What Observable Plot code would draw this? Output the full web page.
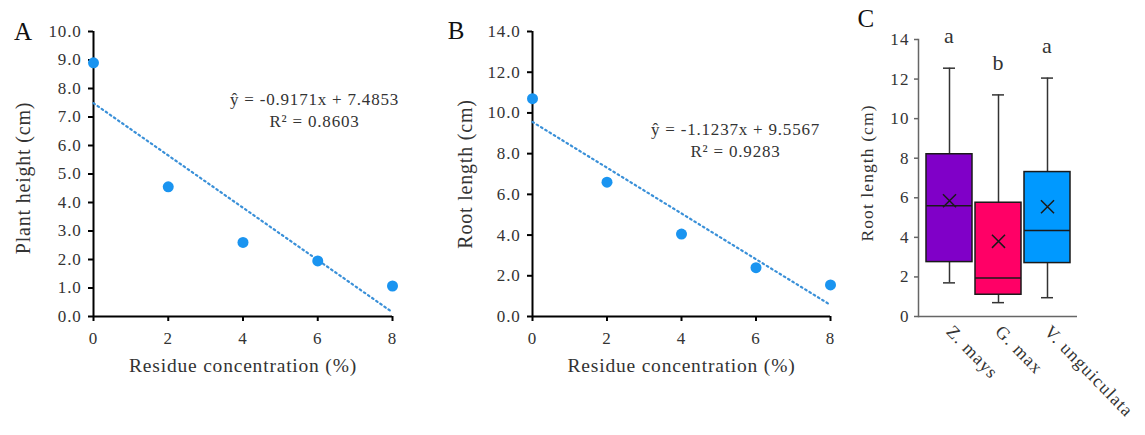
<!DOCTYPE html>
<html>
<head>
<meta charset="utf-8">
<script src="https://cdn.jsdelivr.net/npm/d3@7"></script>
<script src="https://cdn.jsdelivr.net/npm/@observablehq/plot@0.6"></script>
<style>
  body { margin: 0; background: #fff; }
  #wrap { position: relative; width: 1145px; height: 435px; overflow: hidden; background: #fff; }
  .panel { position: absolute; top: 0; }
  #wrap svg, #wrap svg text { font-family: "Liberation Serif", "Times New Roman", "DejaVu Serif", serif !important; }
  #pa text, #pb text { letter-spacing: 0.8px; }
  #pc text { letter-spacing: 1.1px; }
</style>
</head>
<body>
<div id="wrap">
  <div class="panel" id="pa" style="left:0px"></div>
  <div class="panel" id="pb" style="left:420px"></div>
  <div class="panel" id="pc" style="left:840px"></div>
</div>
<script>
// ---------- data ----------
const residueConc = [0, 2, 4, 6, 8];
const plantHeight = [8.9, 4.55, 2.6, 1.95, 1.07];
const rootLength = [10.7, 6.6, 4.05, 2.4, 1.55];
const fitSlope = [-0.9171, -1.1237];
const fitIntercept = [7.4853, 9.5567];
const fitR2 = ["0.8603", "0.9283"];
const yTicksA = [0, 1, 2, 3, 4, 5, 6, 7, 8, 9, 10];
const yTicksB = [0, 2, 4, 6, 8, 10, 12, 14];

const species = ["Z. mays", "G. max", "V. unguiculata"];
const boxMin = [1.7, 0.7, 0.95];
const boxQ1 = [2.75, 1.1, 2.7];
const boxMedian = [5.6, 1.95, 4.35];
const boxQ3 = [8.2, 5.75, 7.3];
const boxMax = [12.55, 11.2, 12.05];
const boxMean = [5.85, 3.8, 5.55];
const groupLetters = ["a", "b", "a"];
const boxColors = ["#8000c8", "#ff0066", "#0099ff"];
const yTicksC = [0, 2, 4, 6, 8, 10, 12, 14];

const FONT = "'Liberation Serif', 'Times New Roman', serif";
const TXT = "#333";
const T = {fontFamily: FONT, textAnchor: "middle", lineAnchor: "middle", fill: TXT};

function scatter(opts) {
  const pts = residueConc.map((x, i) => ({x, y: opts.values[i]}));
  const fit = [residueConc[0], residueConc[residueConc.length - 1]]
    .map(x => ({x, y: opts.intercept + opts.slope * x}));
  const eq = `ŷ = ${opts.slope.toFixed(4)}x + ${opts.intercept.toFixed(4)}`;
  return Plot.plot({
    width: opts.width, height: 400,
    marginLeft: opts.marginLeft, marginRight: opts.marginRight, marginTop: 31, marginBottom: 84,
    style: `font-family: ${FONT}; background: transparent; overflow: visible;`,
    x: {domain: [0, 8]},
    y: {domain: opts.domain},
    marks: [
      Plot.axisX({ticks: residueConc, tickSize: 5, tickPadding: 10, label: null, fontSize: 17, fontFamily: FONT, fill: TXT, stroke: "#000", strokeWidth: 2}),
      Plot.axisY({ticks: opts.ticks, tickSize: 5, tickPadding: 7, label: null, fontSize: 17, fontFamily: FONT, fill: TXT, stroke: "#000", strokeWidth: 2, tickFormat: d3.format(".1f")}),
      Plot.ruleY([0], {stroke: "#000", strokeWidth: 2}),
      Plot.ruleX([0], {stroke: "#000", strokeWidth: 2}),
      Plot.line(fit, {x: "x", y: "y", stroke: "#3a90d8", strokeWidth: 2.2, strokeDasharray: "1.6 3.4"}),
      Plot.dot(pts, {x: "x", y: "y", r: 5.5, fill: "#1a94f0"}),
      Plot.text([eq], {...T, frameAnchor: "top-left", dx: opts.eqDx, dy: opts.eqDy, fontSize: 17}),
      Plot.text([`R² = ${opts.r2}`], {...T, frameAnchor: "top-left", dx: opts.eqDx, dy: opts.eqDy + 22, fontSize: 17}),
      Plot.text([opts.yLabel], {...T, frameAnchor: "left", dx: opts.yLabelDx, dy: opts.yLabelDy, rotate: -90, fontSize: 20}),
      Plot.text(["Residue concentration (%)"], {...T, frameAnchor: "bottom", dy: 49, fontSize: 19.5}),
      Plot.text([opts.letter], {...T, frameAnchor: "top-left", dx: opts.letterDx, dy: opts.letterDy, fontSize: 25, fill: "#111"})
    ]
  });
}

document.getElementById("pa").append(scatter({
  width: 420, marginLeft: 93, marginRight: 28,
  values: plantHeight, domain: [0, 10], ticks: yTicksA,
  slope: fitSlope[0], intercept: fitIntercept[0], r2: fitR2[0],
  eqDx: 221, eqDy: 68, yLabel: "Plant height (cm)", yLabelDx: -70, yLabelDy: 4,
  letter: "A", letterDx: -70, letterDy: 0
}));

document.getElementById("pb").append(scatter({
  width: 440, marginLeft: 112, marginRight: 30,
  values: rootLength, domain: [0, 14], ticks: yTicksB,
  slope: fitSlope[1], intercept: fitIntercept[1], r2: fitR2[1],
  eqDx: 203, eqDy: 98, yLabel: "Root length (cm)", yLabelDx: -67, yLabelDy: 0,
  letter: "B", letterDx: -76, letterDy: -1
}));

// ---------- panel C: box plot ----------
const stats = species.map((s, i) => ({
  s, min: boxMin[i], q1: boxQ1[i], median: boxMedian[i], q3: boxQ3[i],
  max: boxMax[i], mean: boxMean[i], letter: groupLetters[i], color: boxColors[i]
}));

const pc = Plot.plot({
  width: 305, height: 435,
  marginLeft: 78, marginRight: 68, marginTop: 39, marginBottom: 119,
  style: `font-family: ${FONT}; background: transparent; overflow: visible;`,
  x: {domain: species, paddingInner: 0.07, paddingOuter: 0.14},
  y: {domain: [0, 14]},
  marks: [
    Plot.axisY({ticks: yTicksC, tickSize: 4, tickPadding: 5, label: null, fontSize: 17, fontFamily: FONT, fill: TXT, stroke: "#666", strokeWidth: 1.5}),
    Plot.axisX({tickSize: 0, tickPadding: 12, tickRotate: 46, label: null, fontSize: 18, fontFamily: FONT, fill: TXT}),
    Plot.ruleY([0], {stroke: "#666", strokeWidth: 1.5}),
    Plot.frame({anchor: "left", stroke: "#666", strokeWidth: 1.5}),
    Plot.ruleX(stats, {x: "s", y1: "min", y2: "max", stroke: "#333", strokeWidth: 1.5}),
    Plot.tickY(stats, {x: "s", y: "min", insetLeft: 17, insetRight: 17, stroke: "#333", strokeWidth: 1.5}),
    Plot.tickY(stats, {x: "s", y: "max", insetLeft: 17, insetRight: 17, stroke: "#333", strokeWidth: 1.5}),
    Plot.barY(stats, {x: "s", y1: "q1", y2: "q3", fill: "color", stroke: "#1a1a1a", strokeWidth: 1.5}),
    Plot.tickY(stats, {x: "s", y: "median", stroke: "#1a1a1a", strokeWidth: 1.5}),
    Plot.dot(stats, {x: "s", y: "mean", symbol: "times", r: 6, stroke: "#1a1a1a", strokeWidth: 1.5}),
    Plot.text(stats, {...T, x: "s", y: "max", text: "letter", dy: -32, fontSize: 22}),
    Plot.text(["Root length (cm)"], {...T, frameAnchor: "left", dx: -51, dy: -5, rotate: -90, fontSize: 17.5}),
    Plot.text(["C"], {...T, frameAnchor: "top-left", dx: -52, dy: -21, fontSize: 25, fill: "#111"})
  ]
});
document.getElementById("pc").append(pc);
</script>
</body>
</html>
